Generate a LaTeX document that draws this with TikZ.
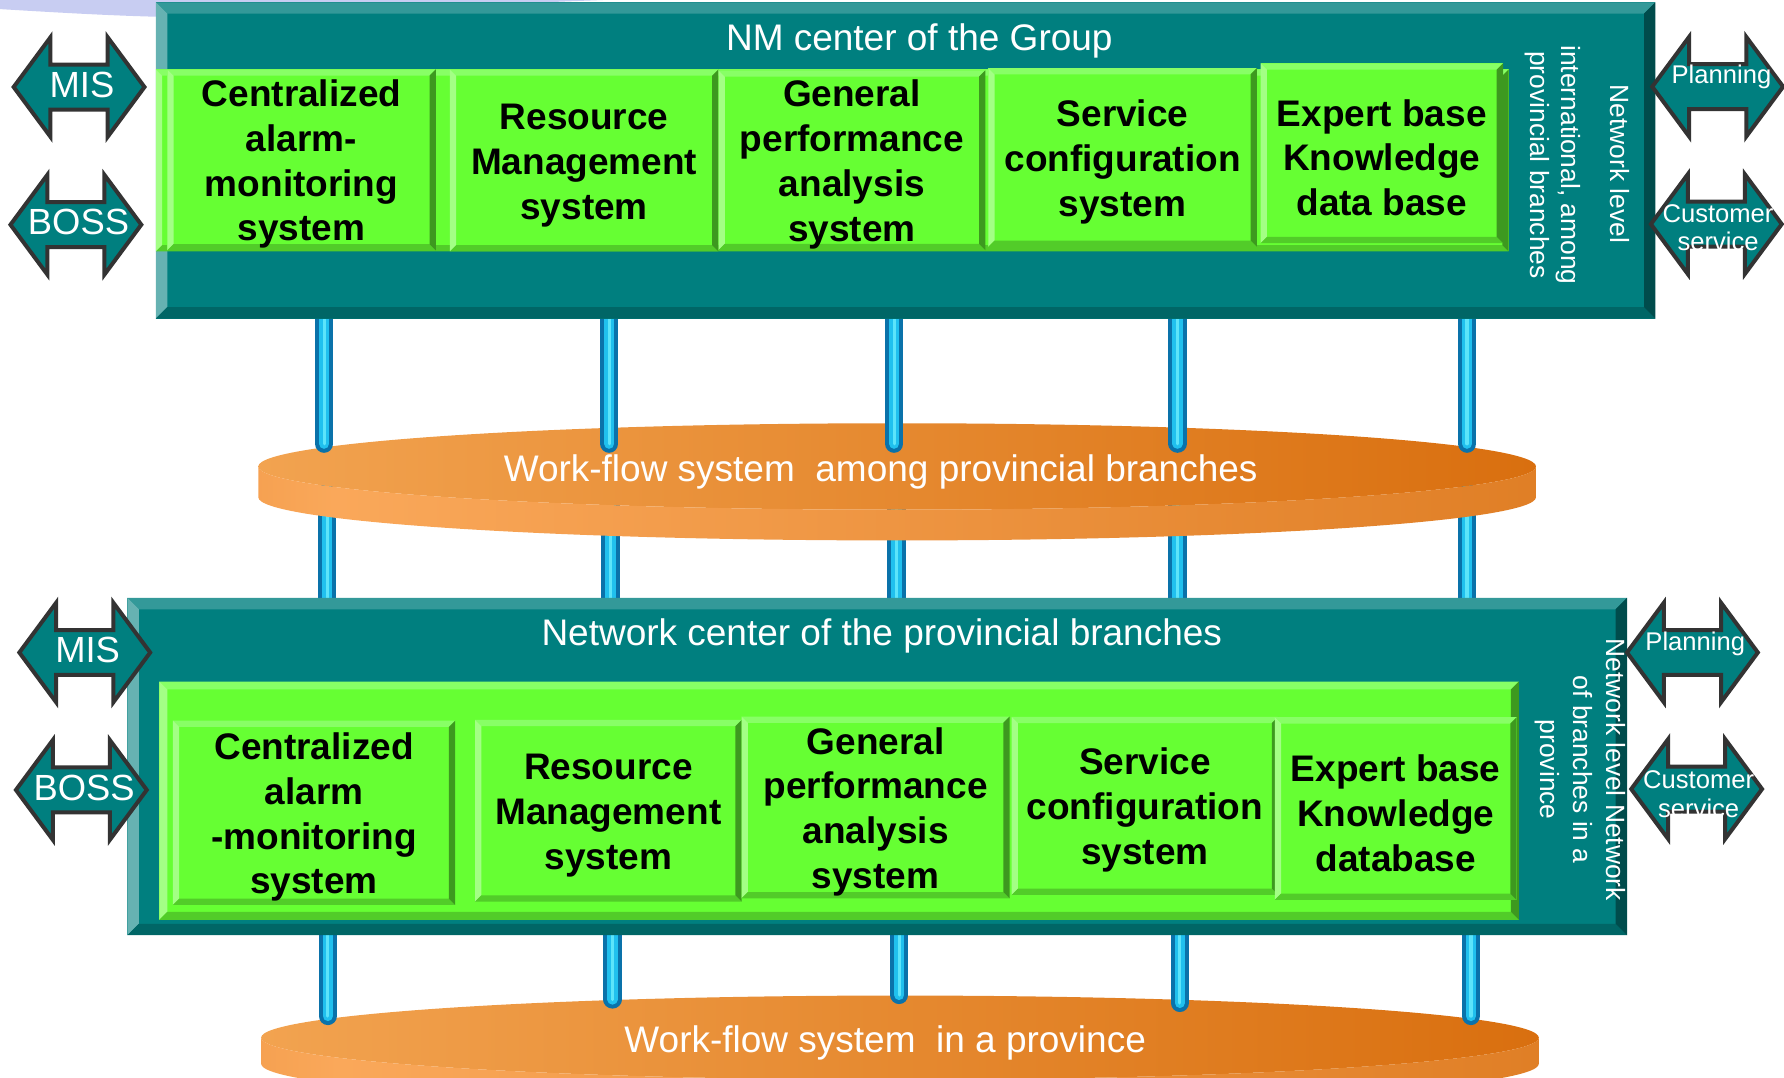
\documentclass[tikz,border=0pt]{standalone}
\usepackage{fontspec}
\setmainfont{Liberation Sans}
\usetikzlibrary{shapes.geometric,shapes.arrows}

\definecolor{tealM}{HTML}{007F7F}
\definecolor{tealT}{HTML}{339999}
\definecolor{tealL}{HTML}{66B2B2}
\definecolor{tealB}{HTML}{006666}
\definecolor{tealR}{HTML}{004C4C}
\definecolor{grM}{HTML}{66FF33}
\definecolor{grT}{HTML}{88FF66}
\definecolor{grL}{HTML}{A3FF85}
\definecolor{grB}{HTML}{52CC29}
\definecolor{grR}{HTML}{3D991F}
\definecolor{orL}{HTML}{F2A350}
\definecolor{orD}{HTML}{D96F0F}
\definecolor{orS1}{HTML}{D2690A}
\definecolor{orS2}{HTML}{FAA85A}
\definecolor{pipeD}{HTML}{0A72AA}
\definecolor{pipeM}{HTML}{20C0EE}
\definecolor{pipeL}{HTML}{5CE4FA}
\definecolor{arrline}{HTML}{333333}
\definecolor{lav}{HTML}{C8CDF2}

\pgfdeclarelayer{back}
\pgfsetlayers{back,main}
\pgfdeclarehorizontalshading{discside}{100bp}{color(0bp)=(orS1); color(28bp)=(orS2); color(100bp)=(orS1)}

% lifts the first line of a box a little
\newcommand{\tstrut}{\rule{0pt}{8.9pt}}

\begin{document}
\begin{tikzpicture}[
        bevel/.style n args={5}{path picture={
            \coordinate (bnw) at (path picture bounding box.north west);
            \coordinate (bne) at (path picture bounding box.north east);
            \coordinate (bsw) at (path picture bounding box.south west);
            \coordinate (bse) at (path picture bounding box.south east);
            \fill[#2] (bnw) -- (bne) -- ([shift={(-#1,-#1)}]bne) -- ([shift={(#1,-#1)}]bnw) -- cycle;
            \fill[#3] (bnw) -- ([shift={(#1,-#1)}]bnw) -- ([shift={(#1,#1)}]bsw) -- (bsw) -- cycle;
            \fill[#4] (bsw) -- (bse) -- ([shift={(-#1,#1)}]bse) -- ([shift={(#1,#1)}]bsw) -- cycle;
            \fill[#5] (bse) -- (bne) -- ([shift={(-#1,-#1)}]bne) -- ([shift={(-#1,#1)}]bse) -- cycle;
        }},
        panel/.style={rectangle, fill=tealM, inner sep=0pt, outer sep=0pt, bevel={0.1}{tealT}{tealL}{tealB}{tealR}},
        gbar/.style={rectangle, fill=grM, inner sep=0pt, outer sep=0pt, bevel={0.055}{grT}{grL}{grB}{grR}},
        sysbox/.style={gbar, align=center, font=\bfseries\fontsize{9.25}{11.2}\selectfont},
        title/.style={text=white, font=\fontsize{9.25}{11}\selectfont},
        side/.style={text=white, align=center, rotate=-90, inner sep=0pt, font=\fontsize{6.6}{7.8}\selectfont},
        dblarrow/.style={double arrow, fill=tealM, draw=arrline, line width=1pt, inner xsep=0pt, inner ysep=0.18cm,
            minimum height=1.15cm, double arrow head extend=0.24cm, double arrow tip angle=107},
        bigtext/.style={text=white, inner sep=0pt, font=\fontsize{9.1}{11}\selectfont},
        smalltext/.style={text=white, inner sep=0pt, align=center, font=\fontsize{6.4}{7.1}\selectfont},
        disc/.style={ellipse, left color=orL, right color=orD, inner sep=0pt, outer sep=0pt, minimum width=11.23cm},
        wftext/.style={text=white, font=\fontsize{9.25}{11}\selectfont},
        pipe/.style={line width=0.16cm, draw=pipeD, line cap=round,
            postaction={draw=pipeM, line width=0.09cm}, postaction={draw=pipeL, line width=0.03cm}}
    ]
        \useasboundingbox (0,0) rectangle (15.68,-9.47);

        % Background swoosh
        \fill[lav] (0,0) -- (0,-0.08) .. controls (0.5,-0.11) and (1.0,-0.14) .. (1.5,-0.15) -- (5.3,0) -- cycle;

        % NM center of the Group
        \node[panel, minimum width=13.18cm, minimum height=2.78cm] (grp) at (7.96,-1.41) {};
        \node[title] (grpt) at (8.08,-0.36) {NM center of the Group};
        \node[gbar, minimum width=11.89cm, minimum height=1.60cm] (grpbar) at (7.315,-1.41) {};
        \node[sysbox, minimum width=2.36cm, minimum height=1.59cm] (g1) at (2.65,-1.405) {\tstrut Centralized\\alarm-\\monitoring\\system};
        \node[sysbox, minimum width=2.36cm, minimum height=1.60cm] (g2) at (5.134,-1.41) {\tstrut Resource\\Management\\system};
        \node[sysbox, minimum width=2.345cm, minimum height=1.58cm] (g3) at (7.4875,-1.408) {\tstrut General\\performance\\analysis\\system};
        \node[sysbox, minimum width=2.36cm, minimum height=1.57cm] (g4) at (9.8665,-1.384) {\tstrut Service\\configuration\\system};
        \node[sysbox, minimum width=2.13cm, minimum height=1.58cm] (g5) at (12.145,-1.347) {\tstrut Expert base\\Knowledge\\data base};
        \node[side] (grps1) at (14.24,-1.44) {Network level};
        \node[side] (grps2) at (13.65,-1.45) {international, among\\provincial branches};

        % Network center of the provincial branches
        \node[panel, minimum width=13.18cm, minimum height=2.965cm] (prov) at (7.71,-6.7375) {};
        \node[title] (provt) at (7.75,-5.59) {Network center of the provincial branches};
        \node[gbar, minimum width=11.95cm, minimum height=2.095cm, bevel={0.07}{grT}{grL}{grB}{grR}] (provbar) at (7.375,-7.0375) {};
        \node[sysbox, minimum width=2.48cm, minimum height=1.62cm] (p1) at (2.76,-7.144) {\tstrut Centralized\\alarm\\-monitoring\\system};
        \node[sysbox, minimum width=2.343cm, minimum height=1.596cm] (p2) at (5.3465,-7.126) {\tstrut Resource\\Management\\system};
        \node[sysbox, minimum width=2.355cm, minimum height=1.597cm] (p3) at (7.6955,-7.0965) {\tstrut General\\performance\\analysis\\system};
        \node[sysbox, minimum width=2.342cm, minimum height=1.565cm] (p4) at (10.063,-7.0825) {\tstrut Service\\configuration\\system};
        \node[sysbox, minimum width=2.126cm, minimum height=1.606cm] (p5) at (12.267,-7.107) {\tstrut Expert base\\Knowledge\\database};
        \node[side, font=\fontsize{6.6}{8.25}\selectfont] (provs) at (13.89,-6.765) {Network level Network\\of branches in a\\province};

        % Interfaces of the Group
        \node[dblarrow] (mis1) at (0.695,-0.765) {};
        \node[bigtext] (mis1t) at (0.72,-0.75) {MIS};
        \node[dblarrow] (boss1) at (0.667,-1.975) {};
        \node[bigtext] (boss1t) at (0.69,-1.95) {BOSS};
        \node[dblarrow] (plan1) at (15.097,-0.762) {};
        \node[smalltext] (plan1t) at (15.13,-0.68) {Planning};
        \node[dblarrow] (cust1) at (15.085,-1.97) {};
        \node[smalltext] (cust1t) at (15.10,-2.00) {Customer\\service};

        % Interfaces of the provincial branches
        \node[dblarrow] (mis2) at (0.745,-5.735) {};
        \node[bigtext] (mis2t) at (0.77,-5.71) {MIS};
        \node[dblarrow] (boss2) at (0.715,-6.943) {};
        \node[bigtext] (boss2t) at (0.74,-6.93) {BOSS};
        \node[dblarrow] (plan2) at (14.875,-5.735) {};
        \node[smalltext] (plan2t) at (14.90,-5.655) {Planning};
        \node[dblarrow] (cust2) at (14.912,-6.935) {};
        \node[smalltext] (cust2t) at (14.93,-6.98) {Customer\\service};

        % Work-flow systems and pipes (behind the panels)
        \begin{pgfonlayer}{back}
            \clip (0,0) rectangle (15.68,-9.47);
            \coordinate (u1) at (2.85,-3.90);
            \coordinate (u2) at (5.355,-3.90);
            \coordinate (u3) at (7.86,-3.90);
            \coordinate (u4) at (10.35,-3.90);
            \coordinate (u5) at (12.895,-3.90);
            \coordinate (m1) at (2.876,-4.30);
            \coordinate (m2) at (5.366,-4.30);
            \coordinate (m3) at (7.88,-4.30);
            \coordinate (m4) at (10.35,-4.30);
            \coordinate (m5) at (12.895,-4.30);
            \coordinate (l1) at (2.88,-8.93);
            \coordinate (l2) at (5.384,-8.785);
            \coordinate (l3) at (7.904,-8.745);
            \coordinate (l4) at (10.369,-8.815);
            \coordinate (l5) at (12.928,-8.93);

            \draw[pipe] (m1) -- (prov.north -| m1);
            \draw[pipe] (m2) -- (prov.north -| m2);
            \draw[pipe] (m3) -- (prov.north -| m3);
            \draw[pipe] (m4) -- (prov.north -| m4);
            \draw[pipe] (m5) -- (prov.north -| m5);

            % among provincial branches
            \node[disc, minimum height=0.76cm] (wf1) at (7.885,-4.10) {};
            \shade[shading=discside] (wf1.west) -- ++(0,-0.27) arc[start angle=180, end angle=360, x radius=5.615, y radius=0.38]
                -- (wf1.east) arc[start angle=0, end angle=-180, x radius=5.615, y radius=0.38] -- cycle;
            \node[wftext] (wf1t) at (7.74,-4.15) {Work-flow system~ among provincial branches};

            \draw[pipe] (grp.south -| u1) -- (u1);
            \draw[pipe] (grp.south -| u2) -- (u2);
            \draw[pipe] (grp.south -| u3) -- (u3);
            \draw[pipe] (grp.south -| u4) -- (u4);
            \draw[pipe] (grp.south -| u5) -- (u5);

            % in a province
            \node[disc, minimum height=0.74cm] (wf2) at (7.91,-9.12) {};
            \shade[shading=discside] (wf2.west) -- ++(0,-0.23) arc[start angle=180, end angle=360, x radius=5.615, y radius=0.37]
                -- (wf2.east) arc[start angle=0, end angle=-180, x radius=5.615, y radius=0.37] -- cycle;
            \node[wftext] (wf2t) at (7.78,-9.165) {Work-flow system~ in a province};

            \draw[pipe] (prov.south -| l1) -- (l1);
            \draw[pipe] (prov.south -| l2) -- (l2);
            \draw[pipe] (prov.south -| l3) -- (l3);
            \draw[pipe] (prov.south -| l4) -- (l4);
            \draw[pipe] (prov.south -| l5) -- (l5);
        \end{pgfonlayer}
    \end{tikzpicture}
\end{document}
